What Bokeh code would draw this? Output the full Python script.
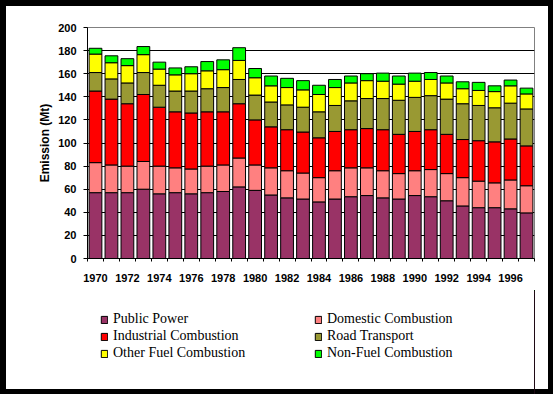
from bokeh.plotting import figure
from bokeh.layouts import column
from bokeh.models import ColumnDataSource, FixedTicker, Legend, LegendItem
from bokeh.embed import file_html
from bokeh.resources import INLINE

years = list(range(1970, 1998))
public_power = [57, 57, 57, 60, 56, 57, 56, 57, 58, 62, 59, 55, 52.5, 51.5, 49, 51.5,
                53.5, 54.5, 52.5, 51.5, 54.5, 53.5, 50, 45.5, 44, 44, 43, 39.5]
domestic = [26, 24, 23, 24, 24, 21.5, 21.5, 23, 23, 25, 22, 23.5, 23.5, 22.5, 21, 24.5,
            25, 24, 23.5, 22, 21.5, 23.5, 23.5, 24.5, 23, 21.5, 25, 23.5]
industrial = [62, 57, 54, 58, 51, 48.5, 48.5, 47, 46, 47, 39, 35.5, 35.5, 35.5, 34.5, 34,
              33, 34, 35.5, 34, 34, 34.5, 34, 33, 35, 35.5, 35.5, 34.5]
road = [16, 17.5, 18, 19, 19, 18, 19, 20, 21, 21, 21.5, 21.5, 21.5, 21.5, 22.5, 22.5,
        25, 26, 27, 29.5, 29.5, 29.5, 30.5, 31, 30.5, 29.5, 31, 32]
other_fuel = [16, 14, 15, 15.5, 14, 14, 15, 15.5, 15.5, 16.5, 15, 14, 15, 15, 15, 15.5,
              15.5, 15.5, 15, 14, 14, 14, 14, 13, 13, 14, 15, 13]
non_fuel = [5, 6, 6, 7, 6, 6, 6, 8, 8.5, 11, 8, 8.5, 8, 8, 8, 7,
            6, 6, 7, 7, 7, 6, 6, 6, 7, 5, 5, 5]

series_names = ["Public Power", "Domestic Combustion", "Industrial Combustion",
                "Road Transport", "Other Fuel Combustion", "Non-Fuel Combustion"]
series_keys = ["pp", "dom", "ind", "road", "oth", "nf"]
colors = ["#993366", "#FF8080", "#FF0000", "#999933", "#FFFF00", "#00FF00"]
y_ticks = list(range(0, 201, 20))
x_label_years = list(range(1970, 1997, 2))

src = ColumnDataSource(dict(year=years, pp=public_power, dom=domestic, ind=industrial,
                            road=road, oth=other_fuel, nf=non_fuel))

# ---- chart ----
p = figure(width=553, height=290, output_backend="svg", toolbar_location=None,
           x_range=(1969.5, 1997.5), y_range=(0, 200),
           min_border_left=87, min_border_right=19, min_border_top=27, min_border_bottom=32)
p.background_fill_color = "white"
p.border_fill_alpha = 0
p.outline_line_color = "#808080"
p.outline_line_width = 1

rs = p.vbar_stack(series_keys, x="year", width=0.8, source=src,
                  fill_color=colors, line_color="black", line_width=1)

p.xgrid.visible = False
p.ygrid.ticker = FixedTicker(ticks=y_ticks[1:-1])
p.ygrid.grid_line_color = "black"
p.ygrid.grid_line_width = 1

xa = p.xaxis[0]
xa.ticker = FixedTicker(ticks=x_label_years, minor_ticks=[y - 0.5 for y in years] + [1997.5])
xa.major_label_overrides = {y: str(y) for y in x_label_years}
xa.major_tick_out = 0
xa.major_tick_in = 0
xa.minor_tick_out = 3
xa.minor_tick_in = 0
xa.minor_tick_line_color = "black"
xa.axis_line_color = "black"
xa.major_label_standoff = 12
xa.major_label_text_font = "Liberation Sans"
xa.major_label_text_font_style = "bold"
xa.major_label_text_font_size = "11px"
xa.major_label_text_color = "black"

ya = p.yaxis[0]
ya.ticker = FixedTicker(ticks=y_ticks)
ya.major_tick_out = 4
ya.major_tick_in = 0
ya.minor_tick_out = 0
ya.minor_tick_in = 0
ya.major_tick_line_color = "black"
ya.axis_line_color = "black"
ya.major_label_standoff = 7
ya.major_label_text_font = "Liberation Sans"
ya.major_label_text_font_style = "bold"
ya.major_label_text_font_size = "11px"
ya.major_label_text_color = "black"
ya.axis_label = "Emission (Mt)"
ya.axis_label_text_font = "Liberation Sans"
ya.axis_label_text_font_style = "bold"
ya.axis_label_text_font_size = "12px"
ya.axis_label_text_color = "black"
ya.axis_label_standoff = 3

# ---- legend panel (same series, kept outside its visible range) ----
lp = figure(width=553, height=104, output_backend="svg", toolbar_location=None,
            x_range=(0, 1), y_range=(0, 1), min_border=0)
lp.axis.visible = False
lp.grid.visible = False
lp.outline_line_color = None
lp.background_fill_alpha = 0
lp.border_fill_alpha = 0

proxies = lp.vbar_stack(series_keys, x="year", width=0.8, source=src,
                        fill_color=colors, line_color="black", line_width=1)

legend = Legend(items=[LegendItem(label=series_names[i], renderers=[proxies[i]]) for i in range(6)],
                location=(13, 33), orientation="horizontal", ncols=2)
legend.border_line_color = None
legend.background_fill_alpha = 0
legend.padding = 0
legend.margin = 0
legend.spacing = 1
legend.glyph_width = 8
legend.glyph_height = 9
legend.label_standoff = 5
legend.label_height = 15
legend.label_width = 200
legend.label_text_font = "Liberation Serif"
legend.label_text_font_size = "14px"
legend.label_text_color = "black"
lp.add_layout(legend)

layout = column(p, lp, spacing=0,
                styles={"background-color": "white",
                        "box-shadow": "inset 6px 6px 0 0 black, inset -5px -5px 0 0 black"})

open("out.html", "w").write(file_html(layout, INLINE))
